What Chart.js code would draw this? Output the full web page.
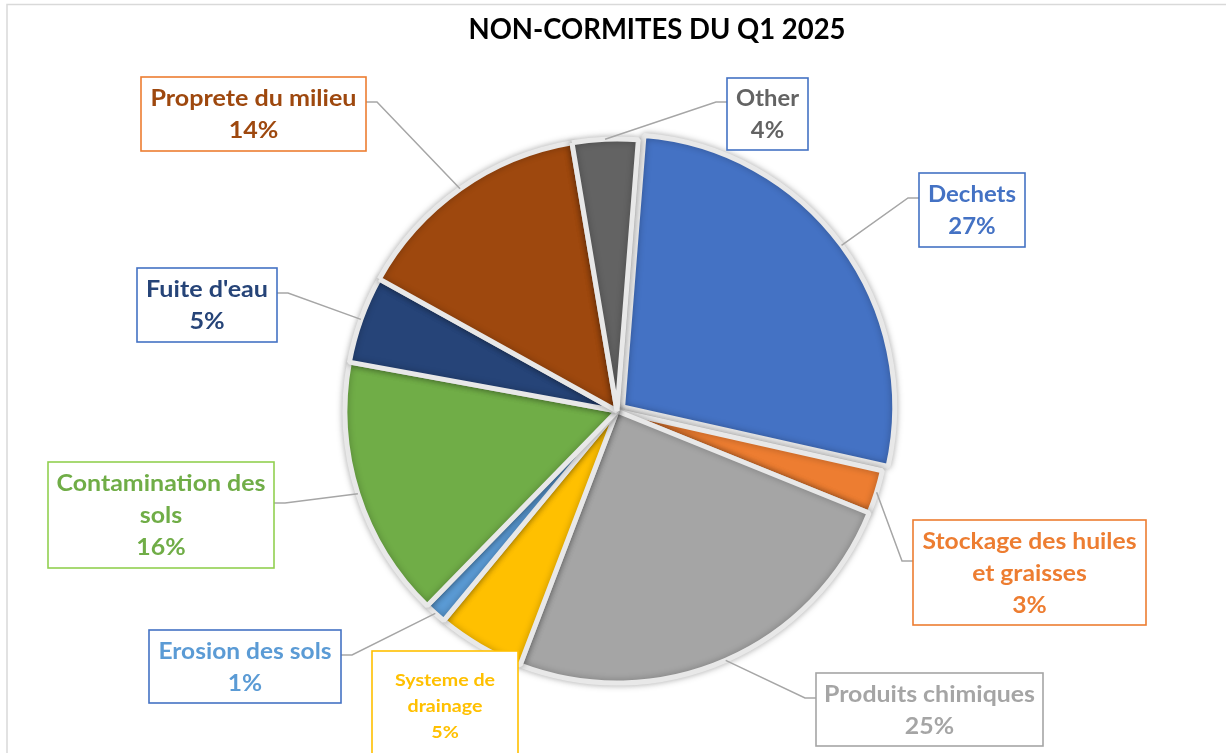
<!DOCTYPE html>
<html>
<head>
<meta charset="utf-8">
<script src="https://cdn.jsdelivr.net/npm/chart.js@4.4.1/dist/chart.umd.min.js"></script>
<style>
  html, body { margin: 0; padding: 0; background: #fff; overflow: hidden; }
  canvas { display: block; }
</style>
</head>
<body>
<canvas id="pieChart" width="1226" height="753"></canvas>
<script>
const chartTitle = "NON-CORMITES DU Q1 2025";
const categories = [
  "Dechets",
  "Stockage des huiles et graisses",
  "Produits chimiques",
  "Systeme de drainage",
  "Erosion des sols",
  "Contamination des sols",
  "Fuite d'eau",
  "Proprete du milieu",
  "Other"
];
const counts = [21, 2, 19, 4, 1, 12, 4, 11, 3];
const sliceColors = ["#4472C4", "#ED7D31", "#A5A5A5", "#FFC000", "#5B9BD5", "#70AD47", "#264478", "#9E480E", "#636363"];

// wrapped text of each label (percent is added from the data)
const labelLines = [
  ["Dechets"],
  ["Stockage des huiles", "et graisses"],
  ["Produits chimiques"],
  ["Systeme de", "drainage"],
  ["Erosion des sols"],
  ["Contamination des", "sols"],
  ["Fuite d'eau"],
  ["Proprete du milieu"],
  ["Other"]
];

// callout boxes: x, y, w, h, text width, where the leader joins
const callouts = [
  { box: [919, 173, 106, 74], tw: 88, side: "left", dy: 25, border: "#4472C4", size: 23, lh: 32 },
  { box: [913, 520, 233, 105], tw: 214, side: "left", dy: 41, border: "#ED7D31", size: 23, lh: 32 },
  { box: [816, 673, 227, 73], tw: 211, side: "left", dy: 25, border: "#A5A5A5", size: 23, lh: 32 },
  { box: [372, 651, 146, 110], tw: 100, side: null, dy: 0, border: "#FFC000", size: 17, lh: 26 },
  { box: [149, 630, 192, 73], tw: 173, side: "right", dy: 25, border: "#4472C4", size: 23, lh: 32 },
  { box: [48, 462, 226, 106], tw: 209, side: "right", dy: 41, border: "#92D050", size: 23, lh: 32 },
  { box: [137, 268, 140, 74], tw: 122, side: "right", dy: 25, border: "#4472C4", size: 23, lh: 32 },
  { box: [141, 77, 225, 74], tw: 206, side: "right", dy: 25, border: "#ED7D31", size: 23, lh: 32 },
  { box: [727, 78, 81, 72], tw: 63, side: "left", dy: 24, border: "#4472C4", size: 23, lh: 32 }
];

const total = counts.reduce((a, b) => a + b, 0);

function drawFitted(ctx, text, cx, baseY, sx) {
  ctx.save();
  ctx.translate(cx, baseY);
  ctx.scale(sx, 1);
  ctx.fillText(text, 0, 0);
  ctx.restore();
}

const calloutPlugin = {
  id: "callouts",
  beforeDraw(chart) {
    const ctx = chart.ctx;
    ctx.save();
    ctx.strokeStyle = "#D9D9D9";
    ctx.lineWidth = 1.5;
    ctx.strokeRect(7, 4.5, 1400, 900);
    // title
    ctx.fillStyle = "#000";
    ctx.font = "bold 28px Lato";
    ctx.textAlign = "center";
    const w = ctx.measureText(chartTitle).width;
    drawFitted(ctx, chartTitle, 657, 39, 377 / w);
    ctx.restore();
  },
  beforeDatasetsDraw(chart) {
    const ctx = chart.ctx;
    ctx.save();
    ctx.shadowColor = "rgba(0,0,0,0.28)";
    ctx.shadowBlur = 7;
  },
  afterDatasetsDraw(chart) {
    const ctx = chart.ctx;
    ctx.restore();
    const meta = chart.getDatasetMeta(0);

    callouts.forEach((c, i) => {
      const [bx, by, bw, bh] = c.box;
      const arc = meta.data[i];
      const p = arc.getProps(["x", "y", "startAngle", "endAngle", "outerRadius"], true);
      const mid = (p.startAngle + p.endAngle) / 2;
      const r = p.outerRadius + (arc.options.offset || 0) / 4;

      ctx.save();
      if (c.side) {
        const ey = by + c.dy;
        const sx = c.side === "left" ? bx : bx + bw;
        const ex = c.side === "left" ? sx - 11 : sx + 11;
        ctx.strokeStyle = "#A6A6A6";
        ctx.lineWidth = 1.5;
        ctx.beginPath();
        ctx.moveTo(p.x + Math.cos(mid) * r, p.y + Math.sin(mid) * r);
        ctx.lineTo(ex, ey);
        ctx.lineTo(sx, ey);
        ctx.stroke();
      }

      ctx.fillStyle = "#fff";
      ctx.fillRect(bx, by, bw, bh);
      ctx.strokeStyle = c.border;
      ctx.lineWidth = 1.6;
      ctx.strokeRect(bx, by, bw, bh);

      const pct = Math.round(counts[i] / total * 100) + "%";
      const lines = labelLines[i].concat([pct]);
      ctx.font = "bold " + c.size + "px Lato";
      ctx.fillStyle = sliceColors[i];
      ctx.textAlign = "center";
      const widest = Math.max(...lines.map(l => ctx.measureText(l).width));
      const scaleX = c.tw / widest;
      const cy = by + bh / 2;
      const top = cy - lines.length * c.lh / 2 + c.lh / 2;
      lines.forEach((l, k) => {
        drawFitted(ctx, l, bx + bw / 2, top + k * c.lh + c.size * 0.36, scaleX);
      });
      ctx.restore();
    });
  }
};

new Chart(document.getElementById("pieChart"), {
  type: "pie",
  data: {
    labels: categories,
    datasets: [{
      data: counts,
      backgroundColor: sliceColors,
      borderColor: "#E8E8E8",
      borderWidth: 5,
      offset: [28, 0, 0, 0, 0, 0, 0, 0, 0],
      hoverOffset: 0
    }]
  },
  options: {
    responsive: false,
    animation: false,
    rotation: 4.5,
    radius: 272,
    layout: { padding: { left: 100, right: 92, top: 89, bottom: 20 } },
    plugins: {
      legend: { display: false },
      title: { display: false },
      tooltip: { enabled: false }
    }
  },
  plugins: [calloutPlugin]
});
</script>
</body>
</html>
